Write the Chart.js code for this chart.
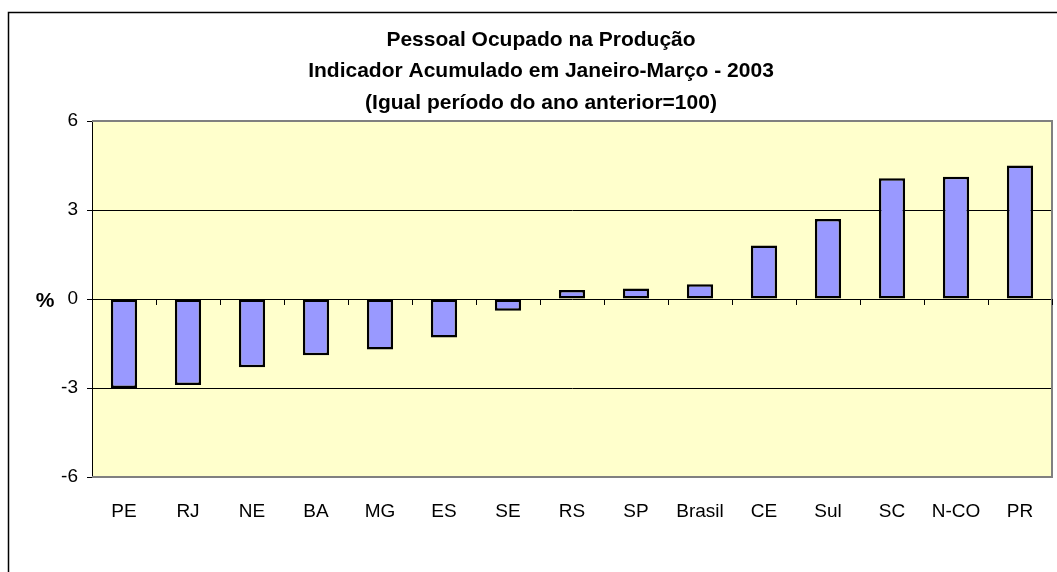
<!DOCTYPE html>
<html lang="pt">

<head>
  <meta charset="UTF-8">
  <title>Pessoal Ocupado na Produção</title>
  <script src="https://cdn.jsdelivr.net/npm/chart.js"></script>
  <style>
    body {
      margin: 0;
      background: #fff;
    }
  </style>
</head>

<body>
  <canvas id="chart" width="1057" height="572"></canvas>

  <script>
    const categories = ['PE', 'RJ', 'NE', 'BA', 'MG', 'ES', 'SE', 'RS', 'SP', 'Brasil', 'CE', 'Sul', 'SC', 'N-CO', 'PR'];
    const values = [-3.0, -2.9, -2.3, -1.9, -1.7, -1.3, -0.4, 0.3, 0.35, 0.5, 1.8, 2.7, 4.07, 4.12, 4.5];
    const yTicks = [-6, -3, 0, 3, 6];
    const titleLines = ['Pessoal Ocupado na Produção', 'Indicador Acumulado em Janeiro-Março - 2003', '(Igual período do ano anterior=100)'];

    const FONT = "'Liberation Sans', Arial, sans-serif";

    // frame, plot background, plot border, % label, category ticks on the zero line
    const decor = {
      id: 'decor',
      beforeDraw(chart) {
        const { ctx, chartArea: a } = chart;
        ctx.save();
        ctx.strokeStyle = '#000';
        ctx.lineWidth = 1.5;
        ctx.strokeRect(8.5, 12.5, 1100, 600);
        ctx.fillStyle = '#FFFFCC';
        ctx.fillRect(a.left, a.top, a.right - a.left, a.bottom - a.top);
        ctx.restore();
      },
      beforeDatasetsDraw(chart) {
        const { ctx, chartArea: a, scales } = chart;
        ctx.save();
        ctx.strokeStyle = '#808080';
        ctx.lineWidth = 2;
        ctx.beginPath();
        ctx.moveTo(a.left, a.top);
        ctx.lineTo(a.right, a.top);
        ctx.lineTo(a.right, a.bottom);
        ctx.lineTo(a.left, a.bottom);
        ctx.stroke();
        // small ticks between categories on the zero line
        const y0 = scales.y.getPixelForValue(0);
        const step = (a.right - a.left) / categories.length;
        ctx.strokeStyle = '#000';
        ctx.lineWidth = 1;
        ctx.beginPath();
        for (let i = 1; i <= categories.length; i++) {
          const x = Math.round(a.left + i * step) + 0.5;
          ctx.moveTo(x, y0);
          ctx.lineTo(x, y0 + 6);
        }
        ctx.stroke();
        ctx.restore();
      },
      afterDraw(chart) {
        const { ctx, scales } = chart;
        ctx.save();
        ctx.fillStyle = '#000';
        ctx.font = 'bold 21px ' + FONT;
        ctx.textAlign = 'center';
        ctx.textBaseline = 'middle';
        ctx.fillText('%', 45, scales.y.getPixelForValue(0) + 2);
        ctx.restore();
      }
    };

    new Chart(document.getElementById('chart').getContext('2d'), {
      type: 'bar',
      data: {
        labels: categories,
        datasets: [{
          data: values,
          backgroundColor: '#9999FF',
          borderColor: '#000',
          borderWidth: 2.5,
          borderSkipped: false,
          categoryPercentage: 1,
          barPercentage: 0.41
        }]
      },
      options: {
        responsive: false,
        animation: false,
        layout: { padding: { left: 30, right: 5, top: 0, bottom: 0 } },
        plugins: {
          legend: { display: false },
          tooltip: { enabled: false },
          title: {
            display: true,
            text: titleLines,
            color: '#000',
            font: { family: FONT, size: 21, weight: 'bold', lineHeight: 1.5 },
            padding: { top: 24, bottom: 2.5 }
          }
        },
        scales: {
          x: {
            grid: { display: false, drawTicks: false },
            border: { display: false },
            ticks: {
              color: '#000',
              font: { family: FONT, size: 19 },
              padding: 23,
              maxRotation: 0,
              autoSkip: false
            },
            afterFit(scale) { scale.height = 95; }
          },
          y: {
            min: -6,
            max: 6,
            afterBuildTicks(scale) { scale.ticks = yTicks.map(v => ({ value: v })); },
            grid: {
              color: c => (c.tick && Math.abs(c.tick.value) === 6) ? 'rgba(0,0,0,0)' : '#000',
              tickColor: '#000',
              tickLength: 5,
              drawTicks: true
            },
            border: { display: true, color: '#000', width: 1 },
            ticks: {
              color: '#000',
              font: { family: FONT, size: 19 },
              padding: 9
            },
            afterFit(scale) { scale.width = 62; }
          }
        }
      },
      plugins: [decor]
    });
  </script>
</body>

</html>
